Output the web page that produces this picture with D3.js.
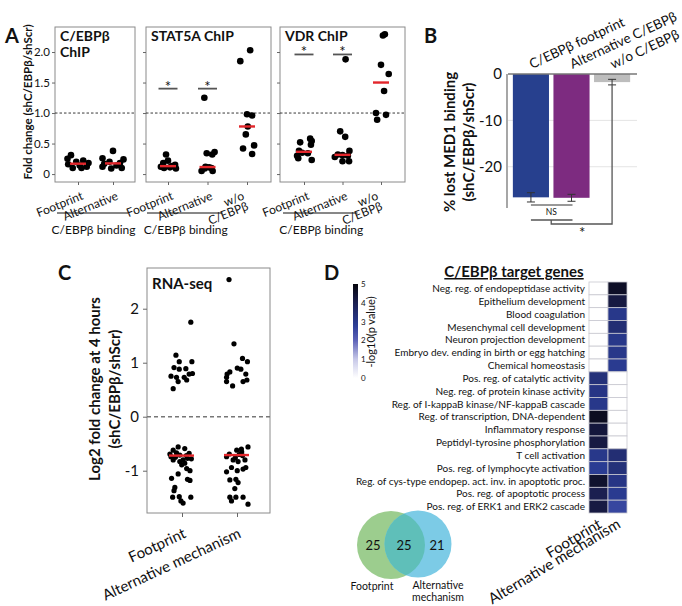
<!DOCTYPE html>
<html><head><meta charset="utf-8">
<script src="https://cdn.jsdelivr.net/npm/d3@7"></script>
<style>body{margin:0;background:#fff} svg{display:block} text{font-family:Lato,"Open Sans",sans-serif;fill:#111}</style>
</head><body><svg id="c" width="682" height="606"></svg>
<script>
// ---------------- DATA ----------------
// Panel A: ChIP fold change; each point = [fold change, horizontal jitter (fraction of category step)]
const chipTitles = [["C/EBPβ", "ChIP"], ["STAT5A ChIP"], ["VDR ChIP"]];
const chipCats = [["Footprint", "Alternative"], ["Footprint", "Alternative", "w/o C/EBPβ"], ["Footprint", "Alternative", "w/o C/EBPβ"]];
const chipYTicks = [0, 0.5, 1.0, 1.5, 2.0];
const cebpbFootprint = [[0.31,-0.2],[0.25,-0.3],[0.22,0.15],[0.2,-0.05],[0.18,0.3],[0.16,-0.28],[0.14,0.05],[0.12,0.25],[0.1,-0.15],[0.1,0.1]];
const cebpbAlternative = [[0.38,0],[0.26,-0.3],[0.24,0.3],[0.2,-0.1],[0.18,0.2],[0.17,-0.25],[0.14,0.1],[0.12,-0.3],[0.1,0.25],[0.09,-0.05]];
const stat5aFootprint = [[0.32,-0.05],[0.22,0.0],[0.18,-0.12],[0.15,0.18],[0.13,0.1],[0.12,-0.18],[0.11,0.05],[0.1,-0.1],[0.09,0.2]];
const stat5aAlternative = [[1.25,-0.08],[0.36,0.18],[0.34,-0.02],[0.32,0.12],[0.12,-0.05],[0.11,0.04],[0.1,0.1],[0.09,-0.07],[0.05,-0.15],[0.05,0.13]];
const stat5aWithout = [[2.03,0.08],[1.85,-0.17],[0.98,0.0],[0.96,0.13],[0.78,0.02],[0.65,-0.03],[0.47,0.18],[0.42,-0.1],[0.33,0.13]];
const vdrFootprint = [[0.58,0.16],[0.54,0.2],[0.52,-0.1],[0.48,0.18],[0.38,-0.13],[0.35,-0.05],[0.34,0.1],[0.3,-0.18],[0.26,-0.15],[0.23,0.2]];
const vdrAlternative = [[1.88,0.08],[0.70,-0.06],[0.61,0.07],[0.38,0.18],[0.32,-0.12],[0.31,0.0],[0.30,0.14],[0.28,-0.2],[0.21,0.0],[0.21,0.17]];
const vdrWithout = [[2.29,0.1],[2.27,0.05],[1.79,0.0],[1.64,0.2],[1.36,0.08],[1.0,-0.13],[0.97,0.13],[0.89,-0.1]];
const chipStarLevel = [null, 1.40, 1.96];   // significance bar heights (fold change)
const chipGroupLabel = "C/EBPβ binding";

// Panel B: % lost MED1 binding
const med1Cats = ["C/EBPβ footprint", "Alternative C/EBPβ", "w/o C/EBPβ"];
const med1Mean = [-26.6, -26.7, -1.75];
const med1Err = [1.0, 0.75, 0.6];
const med1Ticks = [0, -10, -20];

// Panel C: RNA-seq log2 fold change; [value, jitter]
const rnaCats = ["Footprint", "Alternative mechanism"];
const rnaTicks = [-1, 0, 1, 2];
const rnaFootprint = [[0.75,-0.2],[0.91,-0.145],[1.14,-0.11],[0.73,-0.1],[0.65,-0.07],[1.02,-0.05],[0.88,-0.05],[0.73,0.04],[0.89,0.07],[0.68,0.085],[0.79,0.13],[1.75,0.16],[1.02,0.18],[0.8,0.19],[0.52,-0.16],
  [-0.62,-0.16],[-0.56,-0.07],[-0.59,0.05],[-0.69,-0.22],[-0.67,-0.1],[-0.71,-0.04],[-0.68,0.13],[-0.80,-0.16],[-0.83,-0.04],[-0.80,0.02],[-0.89,-0.005],[-0.86,0.05],[-0.96,0.085],[-1.0,0.145],[-1.06,-0.07],[-1.14,-0.19],[-1.16,0.1],[-1.18,0.145],[-1.31,-0.13],[-1.37,-0.145],[-1.49,-0.17],[-1.48,-0.05],[-1.49,0.16],[-1.56,-0.02],[-1.6,0.02],[-0.75,-0.12],[-0.77,0.1],[-0.72,0.08],[-0.74,-0.2],[-0.78,0.17]];
const rnaAlternative = [[1.08,0.1],[1.02,0.19],[0.9,0.005],[0.88,0.07],[0.83,-0.13],[0.79,-0.18],[0.79,0.16],[0.73,-0.19],[0.65,-0.19],[0.57,-0.08],[0.65,0.11],[0.68,0.18],[2.54,-0.145],[1.35,-0.055],
  [-0.74,-0.19],[-0.69,-0.14],[-0.62,-0.005],[-0.65,0.085],[-0.56,0.2],[-0.80,-0.07],[-0.83,0.02],[-0.8,0.145],[-1.02,-0.19],[-0.94,-0.1],[-1.0,0.005],[-0.97,0.11],[-0.94,0.16],[-1.17,-0.13],[-1.16,-0.02],[-1.22,0.02],[-1.33,-0.04],[-1.49,-0.13],[-1.49,-0.02],[-1.56,-0.1],[-1.49,0.11],[-1.62,0.2],[-0.7,0.04],[-0.72,0.1],[-0.76,-0.03],[-0.6,0.08]];

// Panel D: GO enrichment, -log10(p value) (0 = not enriched)
const goTerms = ["Neg. reg. of endopeptidase activity","Epithelium development","Blood coagulation","Mesenchymal cell development","Neuron projection development","Embryo dev. ending in birth or egg hatching","Chemical homeostasis","Pos. reg. of catalytic activity","Neg. reg. of protein kinase activity","Reg. of I-kappaB kinase/NF-kappaB cascade","Reg. of transcription, DNA-dependent","Inflammatory response","Peptidyl-tyrosine phosphorylation","T cell activation","Pos. reg. of lymphocyte activation","Reg. of cys-type endopep. act. inv. in apoptotic proc.","Pos. reg. of apoptotic process","Pos. reg. of ERK1 and ERK2 cascade"];
const goCols = ["Footprint", "Alternative mechanism"];
const goFootprint = [0,0,0,0,0,0,0,3.3,3.1,3.0,4.7,4.3,4.2,3.0,2.85,4.5,4.0,4.2];
const goAlternative = [4.6,4.2,3.0,3.4,3.0,3.0,2.9,0,0,0,0,0,0,3.4,3.3,3.1,2.9,2.6];
const colorTicks = [0,1,2,3,4,5];
const vennCounts = [25, 25, 21];
const vennLabels = [["Footprint"], ["Alternative", "mechanism"]];

// ---------------- DRAW ----------------
const svg = d3.select("#c");
const RED = "#e3262b";
const FONT = "Lato,'Open Sans',sans-serif";
function label(g, x, y, txt, size, opts = {}) {
  const t = g.append("text").attr("x", x).attr("y", y).attr("font-size", size)
    .attr("text-anchor", opts.anchor || "start").attr("font-weight", opts.weight || "normal")
    .text(txt);
  if (opts.dec) t.attr("text-decoration", opts.dec);
  return t;
}
function rotLines(g, x, y, angle, lines, size, anchor, lh) {
  const gg = g.append("g").attr("transform", `translate(${x},${y}) rotate(${angle})`);
  lines.forEach((l, i) => gg.append("text").attr("x", 0).attr("y", i * lh).attr("font-size", size).attr("text-anchor", anchor).text(l));
}
const plain = d => String(d);

// ===== Panel A =====
const A = svg.append("g");
label(A, 5, 43, "A", 20, { weight: "bold" });
const yA = d3.scaleLinear().domain([-0.13, 2.41]).range([182, 27]);
label(A, 0, 0, "Fold change (shC/EBPβ/shScr)", 11.5, { weight: "bold", anchor: "middle" })
  .attr("transform", "translate(32,102) rotate(-90)");
const panelsA = [
  { groups: [cebpbFootprint, cebpbAlternative], box: [55, 135], range: [78, 113] },
  { groups: [stat5aFootprint, stat5aAlternative, stat5aWithout], box: [146, 271], range: [168, 247] },
  { groups: [vdrFootprint, vdrAlternative, vdrWithout], box: [280, 405], range: [304, 381] }
];
panelsA.forEach((p, i) => {
  const g = A.append("g");
  const cats = chipCats[i];
  const x = d3.scalePoint().domain(cats).range(p.range);
  const step = x.step();
  const [y0, y1] = yA.range();
  g.append("rect").attr("x", p.box[0]).attr("y", y1).attr("width", p.box[1] - p.box[0]).attr("height", y0 - y1)
    .attr("fill", "none").attr("stroke", "#8a8a8a").attr("stroke-width", 1);
  const ax = g.append("g").attr("transform", `translate(${p.box[0]},0)`)
    .call(d3.axisLeft(yA).tickValues(chipYTicks).tickSize(3).tickPadding(2)
      .tickFormat(i === 0 ? (d => d === 0 ? "0" : d.toFixed(1)) : ""));
  ax.select(".domain").remove();
  ax.selectAll("line").attr("stroke", "#666");
  ax.selectAll("text").attr("font-size", 11.5).style("font-family", FONT).attr("fill", "#111");
  const bx = g.append("g").attr("transform", `translate(0,${y0})`).call(d3.axisBottom(x).tickSize(3).tickFormat(""));
  bx.select(".domain").remove();
  bx.selectAll("line").attr("stroke", "#666");
  // dashed 1.0 line
  g.append("line").attr("x1", p.box[0]).attr("x2", p.box[1]).attr("y1", yA(1)).attr("y2", yA(1))
    .attr("stroke", "#222").attr("stroke-dasharray", "2.5,2").attr("stroke-width", 0.9);
  // title
  chipTitles[i].forEach((t, k) => label(g, p.box[0] + 5, 41 + k * 16, t, 14, { weight: "bold" }));
  // points
  p.groups.forEach((pts, c) => {
    const cx = x(cats[c]);
    g.selectAll(null).data(pts).join("circle")
      .attr("cx", d => cx + d[1] * step).attr("cy", d => yA(d[0])).attr("r", 3.3).attr("fill", "#000");
    const med = d3.median(pts, d => d[0]);
    g.append("line").attr("x1", cx - 8).attr("x2", cx + 8).attr("y1", yA(med)).attr("y2", yA(med))
      .attr("stroke", RED).attr("stroke-width", 2.4);
  });
  // significance
  if (chipStarLevel[i] !== null) {
    [0, 1].forEach(c => {
      const cx = x(cats[c]);
      const yy = yA(chipStarLevel[i]);
      g.append("line").attr("x1", cx - 9.5).attr("x2", cx + 9.5).attr("y1", yy).attr("y2", yy).attr("stroke", "#555").attr("stroke-width", 1.8);
      label(g, cx, yy + 3, "*", 15, { anchor: "middle" }).attr("fill", "#333");
    });
  }
  // category labels
  cats.forEach((c, k) => {
    const lines = c === "w/o C/EBPβ" ? ["w/o", "C/EBPβ"] : [c];
    const dx = lines.length > 1 ? -2 : 6;
    rotLines(g, x(c) + dx, 199, -22, lines, 12, "end", 11);
  });
  // group underline
  const xl = x(cats[0]) - 21, xr = x(cats[1]) + 15;
  g.append("line").attr("x1", xl).attr("x2", xr).attr("y1", 213).attr("y2", 213).attr("stroke", "#111").attr("stroke-width", 1);
  label(g, (xl + xr) / 2 + 1, 234, chipGroupLabel, 12, { anchor: "middle" });
});

// ===== Panel B =====
const B = svg.append("g");
label(B, 424, 43, "B", 20, { weight: "bold" });
const yB = d3.scaleLinear().domain([0, -28.9]).range([74, 208]);
const xB = d3.scaleBand().domain(med1Cats).range([508, 635]).paddingInner(0.11).paddingOuter(0.12);
const bColors = ["#27408e", "#7d2b80", "#bdbdbd"];
[-10, -20].forEach(v => B.append("line").attr("x1", 508).attr("x2", 637).attr("y1", yB(v)).attr("y2", yB(v)).attr("stroke", "#e4e4e4").attr("stroke-width", 1));
B.selectAll(null).data(med1Mean).join("rect")
  .attr("x", (d, i) => xB(med1Cats[i])).attr("width", xB.bandwidth())
  .attr("y", yB(0)).attr("height", d => yB(d) - yB(0)).attr("fill", (d, i) => bColors[i]);
B.append("line").attr("x1", 508).attr("x2", 637).attr("y1", yB(0)).attr("y2", yB(0)).attr("stroke", "#777").attr("stroke-width", 1.3);
const axB = B.append("g").attr("transform", "translate(507,0)").call(d3.axisLeft(yB).tickValues(med1Ticks).tickSize(0).tickPadding(5).tickFormat(plain));
axB.select(".domain").attr("stroke", "#777").attr("stroke-width", 1.3).attr("d", `M0,${yB.range()[0]}V${yB.range()[1]}`);
axB.selectAll("text").attr("font-size", 15).style("font-family", FONT).attr("fill", "#111");
med1Mean.forEach((m, i) => {
  const cx = xB(med1Cats[i]) + xB.bandwidth() / 2;
  const t = yB(m - med1Err[i]), b = yB(m + med1Err[i]);
  B.append("path").attr("d", `M${cx - 4},${t}H${cx + 4}M${cx},${t}V${b}M${cx - 4},${b}H${cx + 4}`).attr("stroke", "#333").attr("stroke-width", 1).attr("fill", "none");
  rotLines(B, cx + 1, 69, -25, [med1Cats[i]], 13.5, "start", 12);
});
label(B, 0, 0, "% lost MED1 binding", 15, { weight: "bold", anchor: "middle" }).attr("transform", "translate(455,142) rotate(-90)");
label(B, 0, 0, "(shC/EBPβ/shScr)", 15, { weight: "bold", anchor: "middle" }).attr("transform", "translate(474,142) rotate(-90)");
{
  const c0 = xB(med1Cats[0]) + xB.bandwidth() / 2, c1 = xB(med1Cats[1]) + xB.bandwidth() / 2, c2 = xB(med1Cats[2]) + xB.bandwidth() / 2;
  const errBottom = yB(med1Mean[2] - med1Err[2]);
  B.append("line").attr("x1", c0).attr("x2", c1 + 1).attr("y1", 205).attr("y2", 205).attr("stroke", "#333").attr("stroke-width", 1);
  label(B, (c0 + c1) / 2, 215, "NS", 8.5, { anchor: "middle" });
  B.append("path").attr("d", `M${c0},220H${c1 + 1}M${(c0 + c1) / 2},220V224H${c2}V${errBottom}`).attr("stroke", "#555").attr("stroke-width", 1.3).attr("fill", "none");
  label(B, (c0 + c1) / 2 + 31, 238, "*", 15, { anchor: "middle" }).attr("fill", "#333");
}

// ===== Panel C =====
const C = svg.append("g");
label(C, 58, 280, "C", 20, { weight: "bold" });
const yC = d3.scaleLinear().domain([-1.783, 2.754]).range([513, 268]);
const xC = d3.scalePoint().domain(rnaCats).range([182, 237]);
const stepC = xC.step();
C.append("rect").attr("x", 147).attr("y", 268).attr("width", 123).attr("height", 245).attr("fill", "none").attr("stroke", "#8a8a8a");
const axC = C.append("g").attr("transform", "translate(147,0)").call(d3.axisLeft(yC).tickValues(rnaTicks).tickSize(4).tickPadding(4).tickFormat(plain));
axC.select(".domain").remove();
axC.selectAll("line").attr("stroke", "#666");
axC.selectAll("text").attr("font-size", 15).style("font-family", FONT).attr("fill", "#111");
const bxC = C.append("g").attr("transform", "translate(0,513)").call(d3.axisBottom(xC).tickSize(4).tickFormat(""));
bxC.select(".domain").remove(); bxC.selectAll("line").attr("stroke", "#666");
C.append("line").attr("x1", 147).attr("x2", 270).attr("y1", yC(0)).attr("y2", yC(0)).attr("stroke", "#777").attr("stroke-width", 1.5).attr("stroke-dasharray", "4,3");
label(C, 152, 289, "RNA-seq", 15, { weight: "bold" });
[rnaFootprint, rnaAlternative].forEach((pts, c) => {
  const cx = xC(rnaCats[c]);
  C.selectAll(null).data(pts).join("circle").attr("cx", d => cx + d[1] * stepC).attr("cy", d => yC(d[0])).attr("r", 2.6).attr("fill", "#000");
  const med = d3.median(pts, d => d[0]);
  C.append("line").attr("x1", cx - 13).attr("x2", cx + 12).attr("y1", yC(med)).attr("y2", yC(med)).attr("stroke", RED).attr("stroke-width", 2.4);
  rotLines(C, cx + 5, 537, -25, [rnaCats[c]], 15, "end", 14);
});
label(C, 0, 0, "Log2 fold change at 4 hours", 15, { weight: "bold", anchor: "middle" }).attr("transform", "translate(100,389) rotate(-90)");
label(C, 0, 0, "(shC/EBPβ/shScr)", 15, { weight: "bold", anchor: "middle" }).attr("transform", "translate(120,389) rotate(-90)");

// ===== Panel D =====
const D = svg.append("g");
label(D, 324, 280, "D", 20, { weight: "bold" });
label(D, 514, 277, "C/EBPβ target genes", 15, { weight: "bold", anchor: "middle", dec: "underline" });
const colorScale = d3.scaleLinear().domain([0, 1, 2, 2.8, 4, 5]).range(["#ffffff", "#c7c8e8", "#5d63b8", "#2b3d96", "#1b1f50", "#05050c"]);
// colour bar
const cbY = d3.scaleLinear().domain([0, 5]).range([378, 284]);
const grad = svg.append("defs").append("linearGradient").attr("id", "cb").attr("x1", 0).attr("x2", 0).attr("y1", 1).attr("y2", 0);
d3.range(0, 5.01, 0.25).forEach(v => grad.append("stop").attr("offset", v / 5).attr("stop-color", colorScale(v)));
D.append("rect").attr("x", 353).attr("y", cbY(5)).attr("width", 5).attr("height", cbY(0) - cbY(5)).attr("fill", "url(#cb)");
colorTicks.forEach(v => label(D, 361, cbY(v) + 3, String(v), 8));
label(D, 0, 0, "-log10(p value)", 11, { anchor: "middle" }).attr("transform", "translate(375,332) rotate(-90)");
// heat map
const xD = d3.scaleBand().domain(goCols).range([589, 627]);
const yD = d3.scaleBand().domain(goTerms).range([282, 513]);
const cells = [];
goTerms.forEach((t, i) => { cells.push({ t, c: goCols[0], v: goFootprint[i] }); cells.push({ t, c: goCols[1], v: goAlternative[i] }); });
D.selectAll(null).data(cells).join("rect").attr("x", d => xD(d.c)).attr("y", d => yD(d.t))
  .attr("width", xD.bandwidth()).attr("height", yD.bandwidth()).attr("fill", d => colorScale(d.v))
  .attr("stroke", "#c8c8d0").attr("stroke-width", 0.8);
goTerms.forEach(t => label(D, 585, yD(t) + yD.bandwidth() / 2 + 3.6, t, 10, { anchor: "end" }));
goCols.forEach(c => rotLines(D, xD(c) + xD.bandwidth() / 2 + 4, 527, -31, [c], 15, "end", 14));
// Venn
const vennG = D.append("g");
const circles = [{ cx: 391, cy: 545, r: 34, fill: "#9ccd8e" }, { cx: 418, cy: 544, r: 33.5, fill: "#7ccbe6" }];
const defs = svg.select("defs");
defs.append("clipPath").attr("id", "vclip").append("circle").attr("cx", circles[0].cx).attr("cy", circles[0].cy).attr("r", circles[0].r);
circles.forEach(c => vennG.append("circle").attr("cx", c.cx).attr("cy", c.cy).attr("r", c.r).attr("fill", c.fill));
vennG.append("circle").attr("cx", circles[1].cx).attr("cy", circles[1].cy).attr("r", circles[1].r).attr("fill", "#5fbfb9").attr("clip-path", "url(#vclip)");
[373, 404, 437].forEach((x, i) => label(vennG, x, 550, String(vennCounts[i]), 13, { anchor: "middle" }));
vennLabels[0].forEach((l, k) => label(vennG, 372, 590 + k * 12, l, 10.5, { anchor: "middle" }));
vennLabels[1].forEach((l, k) => label(vennG, 438, 589 + k * 12, l, 10.5, { anchor: "middle" }));
</script></body></html>
